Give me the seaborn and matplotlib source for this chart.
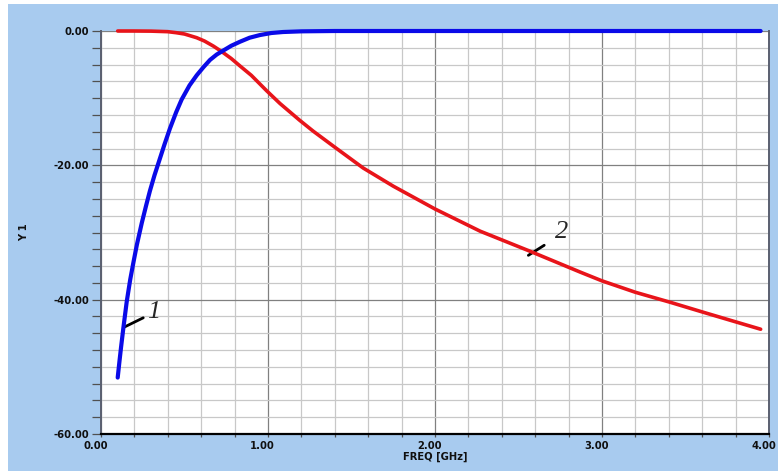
import numpy as np
import pandas as pd
import seaborn as sns
import matplotlib.pyplot as plt
from matplotlib.patches import Rectangle
from matplotlib.ticker import MultipleLocator, FormatStrFormatter
from matplotlib.transforms import ScaledTranslation

# curve 1 (blue, high-pass)
freq_1 = [0.100, 0.110, 0.120, 0.134, 0.154, 0.175, 0.193, 0.215, 0.244, 0.270,
          0.293, 0.320, 0.350, 0.380, 0.413, 0.450, 0.483, 0.530, 0.573, 0.613,
          0.653, 0.693, 0.733, 0.780, 0.832, 0.890, 0.952, 1.020, 1.090, 1.200,
          1.400, 2.000, 3.000, 3.950]
y_1 = [-51.6, -49.3, -47.1, -44.2, -40.3, -37.0, -34.6, -31.8, -28.6, -26.0,
       -23.8, -21.5, -19.2, -16.9, -14.5, -12.1, -10.2, -8.1, -6.6, -5.4,
       -4.3, -3.5, -2.9, -2.2, -1.6, -1.0, -0.6, -0.3, -0.15, -0.05,
       0.0, 0.0, 0.0, 0.0]

# curve 2 (red, low-pass)
freq_2 = [0.10, 0.20, 0.30, 0.40, 0.45, 0.50, 0.573, 0.62, 0.673, 0.722,
          0.78, 0.832, 0.90, 0.992, 1.072, 1.19, 1.27, 1.40, 1.57, 1.75,
          2.00, 2.27, 2.57, 2.87, 3.00, 3.20, 3.41, 3.61, 3.80, 3.95]
y_2 = [0.0, 0.0, -0.02, -0.1, -0.25, -0.45, -1.0, -1.5, -2.25, -3.05,
       -4.1, -5.2, -6.6, -8.9, -10.8, -13.3, -14.9, -17.3, -20.4, -23.1,
       -26.5, -29.8, -32.8, -35.9, -37.2, -38.9, -40.4, -41.9, -43.3, -44.4]

bg_blue = '#A8CBEF'

sns.set_style('white')
plt.rcParams['font.family'] = ['DejaVu Sans']

fig = plt.figure(figsize=(7.78, 4.71), dpi=100)
fig.patch.set_facecolor('white')
fig.add_artist(Rectangle((8 / 778, 0), 1, 1 - 4 / 471, transform=fig.transFigure,
                         facecolor=bg_blue, edgecolor='none', zorder=0))
ax = fig.add_axes([101 / 778, 1 - 434 / 471, 668 / 778, 403 / 471])
ax.set_facecolor('white')

df1 = pd.DataFrame({'f': freq_1, 'y': y_1})
df2 = pd.DataFrame({'f': freq_2, 'y': y_2})
sns.lineplot(data=df2, x='f', y='y', ax=ax, color='#E8141A', linewidth=2.6,
             estimator=None, sort=False, clip_on=False, zorder=5)
sns.lineplot(data=df1, x='f', y='y', ax=ax, color='#0A0AE8', linewidth=3.0,
             estimator=None, sort=False, clip_on=False, zorder=6)

ax.set_xlim(0, 4)
ax.set_ylim(-60, 0)
ax.xaxis.set_major_locator(MultipleLocator(1))
ax.xaxis.set_minor_locator(MultipleLocator(0.2))
ax.yaxis.set_major_locator(MultipleLocator(20))
ax.yaxis.set_minor_locator(MultipleLocator(2.5))
ax.xaxis.set_major_formatter(FormatStrFormatter('%.2f'))
ax.yaxis.set_major_formatter(FormatStrFormatter('%.2f'))

ax.grid(which='minor', color='#C8C8C8', linewidth=0.9)
ax.grid(which='major', color='#808080', linewidth=0.9)
ax.set_axisbelow(True)

ax.spines['top'].set_visible(False)
ax.spines['bottom'].set_color('black')
ax.spines['bottom'].set_linewidth(1.6)
ax.spines['left'].set_color('#5A6070')
ax.spines['left'].set_linewidth(1.4)
ax.spines['right'].set_color('#5A6070')
ax.spines['right'].set_linewidth(1.4)

ax.tick_params(axis='y', which='both', direction='out', length=6.5, width=0.9,
               color='#505050', left=True, pad=2)
ax.tick_params(axis='x', which='both', direction='out', length=2.2, width=0.9,
               color='#505050', bottom=True, pad=2.5)
shift = ScaledTranslation(-5.5 / 100, 0, fig.dpi_scale_trans)
for lab in ax.get_xticklabels():
    lab.set_transform(lab.get_transform() + shift)
for lab in ax.get_xticklabels() + ax.get_yticklabels():
    lab.set_fontsize(7.2)
    lab.set_fontweight('bold')
    lab.set_color('#101010')

ax.set_xlabel('FREQ [GHz]', fontsize=7.2, fontweight='bold', color='#101010', labelpad=1)
ax.set_ylabel('Y 1', fontsize=7.2, fontweight='bold', color='#101010')
ax.yaxis.set_label_coords(-72 / 668, 0.5)

# curve labels with leader lines
ax.annotate('', xy=(0.138, -44.1), xytext=(0.253, -42.7),
            arrowprops=dict(arrowstyle='-', color='black', lw=2.0, shrinkA=0, shrinkB=0))
ax.text(0.317, -41.9, '1', fontsize=19, style='italic', family='Liberation Serif',
        ha='center', va='center')
ax.annotate('', xy=(2.559, -33.4), xytext=(2.654, -31.9),
            arrowprops=dict(arrowstyle='-', color='black', lw=2.0, shrinkA=0, shrinkB=0))
ax.text(2.759, -29.9, '2', fontsize=19, style='italic', family='Liberation Serif',
        ha='center', va='center')

fig.savefig('out.png', dpi=100, facecolor=fig.get_facecolor())
